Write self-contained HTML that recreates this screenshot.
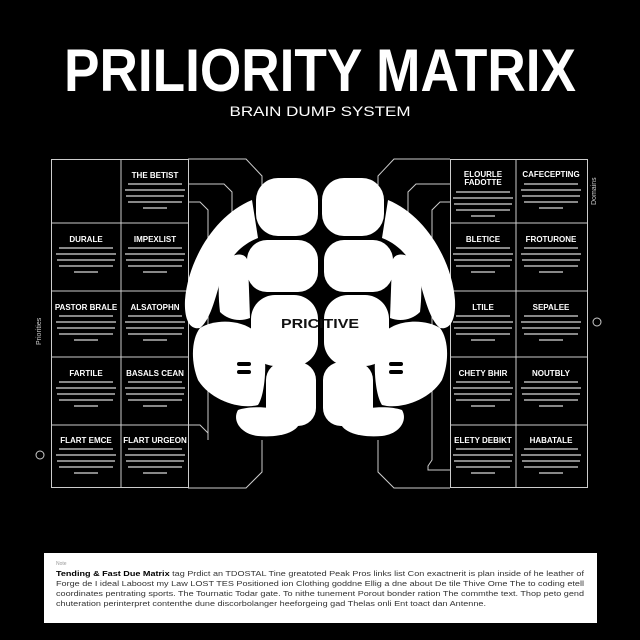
<!DOCTYPE html>
<html><head><meta charset="utf-8"><style>
html,body{margin:0;padding:0;background:#000;}
svg{display:block;}
.t{font-family:"Liberation Sans",sans-serif;}
</style></head><body>
<svg width="640" height="640" viewBox="0 0 640 640" xmlns="http://www.w3.org/2000/svg">
<defs>
<g id="L">
<rect x="-27" y="0" width="54" height="2"/><rect x="-30" y="6" width="60" height="2"/><rect x="-29" y="12" width="58" height="2"/><rect x="-27" y="18" width="54" height="2"/><rect x="-12" y="24" width="24" height="2"/>
</g>
</defs>
<rect width="640" height="640" fill="#000"/>
<text class="t" x="320" y="91" text-anchor="middle" font-size="60" font-weight="bold" fill="#fff" textLength="512" lengthAdjust="spacingAndGlyphs">PRILIORITY MATRIX</text>
<text class="t" x="320" y="116" text-anchor="middle" font-size="14" fill="#fff" textLength="181" lengthAdjust="spacingAndGlyphs">BRAIN DUMP SYSTEM</text>

<g stroke="#ccc" stroke-width="1" fill="none">
<rect x="51.5" y="159.5" width="137" height="328"/>
<line x1="121" y1="159" x2="121" y2="488"/>
<line x1="51" y1="223" x2="188" y2="223"/><line x1="51" y1="291" x2="188" y2="291"/>
<line x1="51" y1="357" x2="188" y2="357"/><line x1="51" y1="425" x2="188" y2="425"/>
<rect x="450.5" y="159.5" width="137" height="328"/>
<line x1="516" y1="159" x2="516" y2="488"/>
<line x1="450" y1="223" x2="587" y2="223"/><line x1="450" y1="291" x2="587" y2="291"/>
<line x1="450" y1="357" x2="587" y2="357"/><line x1="450" y1="425" x2="587" y2="425"/>
<path d="M188 159 H246 L262 176 V200"/>
<path d="M188 184 H224 L232 192 V230"/>
<path d="M188 202 H200 L208 210 V440"/>
<path d="M188 425 H200 L208 433"/>
<path d="M188 488 H246 L262 472 V440"/>
<path d="M450 159 H394 L378 176 V200"/>
<path d="M450 184 H416 L408 192 V230"/>
<path d="M450 202 H440 L432 210 V460 L428 466 V470 L450 470"/>
<path d="M450 488 H394 L378 472 V440"/>
</g>

<g fill="#fff">
<rect x="256" y="178" width="62" height="58" rx="22"/>
<rect x="322" y="178" width="62" height="58" rx="22"/>
<rect x="247" y="240" width="71" height="52" rx="20"/>
<rect x="324" y="240" width="69" height="52" rx="20"/>
<rect x="251" y="295" width="67" height="71" rx="24"/>
<rect x="324" y="295" width="65" height="71" rx="24"/>
<rect x="266" y="362" width="50" height="64" rx="18"/>
<rect x="323" y="362" width="50" height="64" rx="18"/>
<path d="M252 200 C215 215 188 260 185 300 C184 320 190 330 200 328 C210 320 215 300 222 275 C230 258 240 245 258 238 Z"/>
<path d="M388 200 C425 215 452 260 455 300 C456 320 450 330 440 328 C430 320 425 300 418 275 C410 258 400 245 382 238 Z"/>
<path d="M222 262 C235 252 246 252 248 262 L250 318 C240 322 228 320 220 312 C218 295 218 275 222 262 Z"/>
<path d="M418 262 C405 252 394 252 392 262 L390 318 C400 322 412 320 420 312 C422 295 422 275 418 262 Z"/>
<path d="M200 328 C215 318 250 318 262 340 C268 360 265 395 258 405 C240 410 210 400 198 380 C190 360 192 338 200 328 Z"/>
<path d="M440 328 C425 318 390 318 378 340 C372 360 375 395 382 405 C400 410 430 400 442 380 C450 360 448 338 440 328 Z"/>
<path d="M238 410 C255 404 290 408 300 420 C300 432 280 438 258 436 C240 434 232 420 238 410 Z"/>
<path d="M402 410 C385 404 350 408 340 420 C340 432 360 438 382 436 C400 434 408 420 402 410 Z"/>
</g>
<g fill="#000">
<rect x="237" y="362" width="14" height="4" rx="2"/><rect x="237" y="370" width="14" height="4" rx="2"/>
<rect x="389" y="362" width="14" height="4" rx="2"/><rect x="389" y="370" width="14" height="4" rx="2"/>
</g>
<text class="t" x="320" y="328" text-anchor="middle" font-size="13" font-weight="bold" fill="#111" textLength="78" lengthAdjust="spacingAndGlyphs">PRICITIVE</text>

<text class="t" x="0" y="0" font-size="7" fill="#ccc" transform="translate(41,345) rotate(-90)">Priorities</text>
<text class="t" x="0" y="0" font-size="7" fill="#ccc" transform="translate(596,205) rotate(-90)">Domains</text>
<circle cx="40" cy="455" r="4" fill="none" stroke="#ccc"/>
<circle cx="597" cy="322" r="4" fill="none" stroke="#ccc"/>

<g class="t" fill="#fff" font-weight="bold" font-size="8" text-anchor="middle">
<text x="155" y="178">THE BETIST</text>
<text x="86" y="242">DURALE</text><text x="155" y="242">IMPEXLIST</text>
<text x="86" y="310">PASTOR BRALE</text><text x="155" y="310">ALSATOPHN</text>
<text x="86" y="376">FARTILE</text><text x="155" y="376">BASALS CEAN</text>
<text x="86" y="443">FLART EMCE</text><text x="155" y="443">FLART URGEON</text>
<text x="483" y="177">ELOURLE</text><text x="483" y="185">FADOTTE</text><text x="551" y="177">CAFECEPTING</text>
<text x="483" y="242">BLETICE</text><text x="551" y="242">FROTURONE</text>
<text x="483" y="310">LTILE</text><text x="551" y="310">SEPALEE</text>
<text x="483" y="376">CHETY BHIR</text><text x="551" y="376">NOUTBLY</text>
<text x="483" y="443">ELETY DEBIKT</text><text x="551" y="443">HABATALE</text>
</g>
<g fill="#888">
<use href="#L" x="155" y="183"/>
<use href="#L" x="86" y="247"/><use href="#L" x="155" y="247"/>
<use href="#L" x="86" y="315"/><use href="#L" x="155" y="315"/>
<use href="#L" x="86" y="381"/><use href="#L" x="155" y="381"/>
<use href="#L" x="86" y="448"/><use href="#L" x="155" y="448"/>
<use href="#L" x="483" y="191"/><use href="#L" x="551" y="183"/>
<use href="#L" x="483" y="247"/><use href="#L" x="551" y="247"/>
<use href="#L" x="483" y="315"/><use href="#L" x="551" y="315"/>
<use href="#L" x="483" y="381"/><use href="#L" x="551" y="381"/>
<use href="#L" x="483" y="448"/><use href="#L" x="551" y="448"/>
</g>

<rect x="44" y="553" width="553" height="70" fill="#fff"/>
<text class="t" x="56" y="565" font-size="5" fill="#999">Note</text>
<g class="t" font-size="7.2" fill="#333">
<text x="56" y="576" textLength="528" lengthAdjust="spacingAndGlyphs"><tspan font-weight="bold" fill="#000">Tending &amp; Fast Due Matrix</tspan> tag Prdict an TDOSTAL Tine greatoted Peak Pros links list Con exactnerit is plan inside of he leather of</text>
<text x="56" y="586" textLength="528" lengthAdjust="spacingAndGlyphs">Forge de I ideal Laboost my Law LOST TES Positioned ion Clothing goddne Ellig a dne about De tile Thive Ome The to coding etell</text>
<text x="56" y="596" textLength="528" lengthAdjust="spacingAndGlyphs">coordinates pentrating sports. The Tournatic Todar gate. To nithe tunement Porout bonder ration The commthe text. Thop peto gend</text>
<text x="56" y="606" textLength="430" lengthAdjust="spacingAndGlyphs">chuteration perinterpret contenthe dune discorbolanger heeforgeing gad Thelas onli Ent toact dan Antenne.</text>
</g>
</svg>
</body></html>
